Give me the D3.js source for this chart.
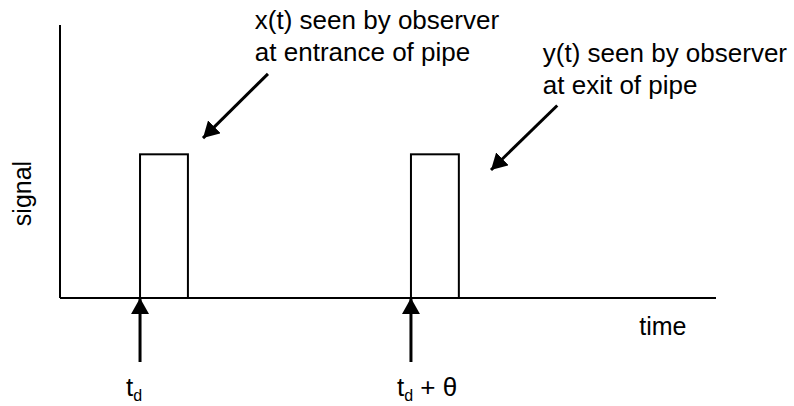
<!DOCTYPE html>
<html>
<head>
<meta charset="utf-8">
<script src="https://cdn.jsdelivr.net/npm/d3@7"></script>
<style>
  html, body { margin: 0; padding: 0; background: #fff; }
  svg { display: block; }
  text { font-family: "Liberation Sans", Arial, sans-serif; fill: #000; }
</style>
</head>
<body>
<div id="chart"></div>
<script>
// time axis runs 0..100, signal axis 0..1.9 (pulse height 1)
const pulseStart = [12.2, 53.5];
const pulseWidth = [7.3, 7.3];
const pulseHeight = [1, 1];
const pulseLabels = [["t", "d", ""], ["t", "d", " + θ"]];

// annotation text and arrows, in data units
const noteLines = [
    ["x(t) seen by observer", "at entrance of pipe"],
    ["y(t) seen by observer", "at exit of pipe"]
];
const noteX = [29.7, 73.6];
const noteY = [1.87, 1.64];
const arrowFrom = [[31.7, 1.56], [75.8, 1.34]];
const arrowTo = [[21.8, 1.113], [65.7, 0.891]];

const axisLabels = { x: "time", y: "signal" };

const width = 794, height = 406;
const margin = { top: 25, right: 78, bottom: 108, left: 60 };

const svg = d3.select('#chart')
    .append('svg')
    .attr('width', width)
    .attr('height', height);

const x = d3.scaleLinear().domain([0, 100]).range([margin.left, width - margin.right]);
const y = d3.scaleLinear().domain([0, 1.9]).range([height - margin.bottom, margin.top]);

const defs = svg.append('defs');
defs.append('marker')
    .attr('id', 'head')
    .attr('markerUnits', 'userSpaceOnUse')
    .attr('viewBox', '0 -9 16 18')
    .attr('refX', 16).attr('refY', 0)
    .attr('markerWidth', 16).attr('markerHeight', 18)
    .attr('orient', 'auto')
    .append('path')
    .attr('d', 'M0,-9L16,0L0,9Z')
    .attr('fill', '#000');

// axes as plain lines, no ticks
svg.append('line')
    .attr('x1', x(0)).attr('x2', x(0))
    .attr('y1', y(1.9)).attr('y2', y(0))
    .attr('stroke', '#000').attr('stroke-width', 2);
svg.append('line')
    .attr('x1', x(0)).attr('x2', x(100))
    .attr('y1', y(0)).attr('y2', y(0))
    .attr('stroke', '#000').attr('stroke-width', 2);

// pulses
svg.selectAll('.pulse')
    .data(pulseStart)
    .join('rect')
    .attr('class', 'pulse')
    .attr('x', d => x(d))
    .attr('y', (d, i) => y(pulseHeight[i]))
    .attr('width', (d, i) => x(d + pulseWidth[i]) - x(d))
    .attr('height', (d, i) => y(0) - y(pulseHeight[i]))
    .attr('fill', 'none')
    .attr('stroke', '#000')
    .attr('stroke-width', 2);

// upward arrows marking the pulse start times
svg.selectAll('.start-arrow')
    .data(pulseStart)
    .join('line')
    .attr('class', 'start-arrow')
    .attr('x1', d => x(d)).attr('x2', d => x(d))
    .attr('y1', y(0) + 64).attr('y2', y(0))
    .attr('stroke', '#000')
    .attr('stroke-width', 3)
    .attr('marker-end', 'url(#head)');

const startText = svg.selectAll('.start-label')
    .data(pulseStart)
    .join('text')
    .attr('class', 'start-label')
    .attr('x', d => x(d) - 14)
    .attr('y', y(0) + 98)
    .attr('font-size', 26);
startText.append('tspan').text((d, i) => pulseLabels[i][0]);
startText.append('tspan')
    .attr('font-size', 16).attr('dy', 5)
    .text((d, i) => pulseLabels[i][1]);
startText.append('tspan')
    .attr('dy', -5)
    .text((d, i) => pulseLabels[i][2]);

// annotations
noteLines.forEach((lines, i) => {
    svg.append('text')
        .attr('x', x(noteX[i]))
        .attr('y', y(noteY[i]))
        .attr('font-size', 26)
        .selectAll('tspan')
        .data(lines)
        .join('tspan')
        .attr('x', x(noteX[i]))
        .attr('dy', (d, j) => j === 0 ? 0 : 31.5)
        .text(d => d);

    svg.append('line')
        .attr('x1', x(arrowFrom[i][0])).attr('y1', y(arrowFrom[i][1]))
        .attr('x2', x(arrowTo[i][0])).attr('y2', y(arrowTo[i][1]))
        .attr('stroke', '#000')
        .attr('stroke-width', 3)
        .attr('marker-end', 'url(#head)');
});

// axis titles
svg.append('text')
    .attr('x', x(88.3))
    .attr('y', y(0) + 37)
    .attr('font-size', 25)
    .text(axisLabels.x);

svg.append('text')
    .attr('transform', `translate(31,${(y(0) + y(1.9)) / 2 + 32}) rotate(-90)`)
    .attr('text-anchor', 'middle')
    .attr('font-size', 25)
    .text(axisLabels.y);
</script>
</body>
</html>
